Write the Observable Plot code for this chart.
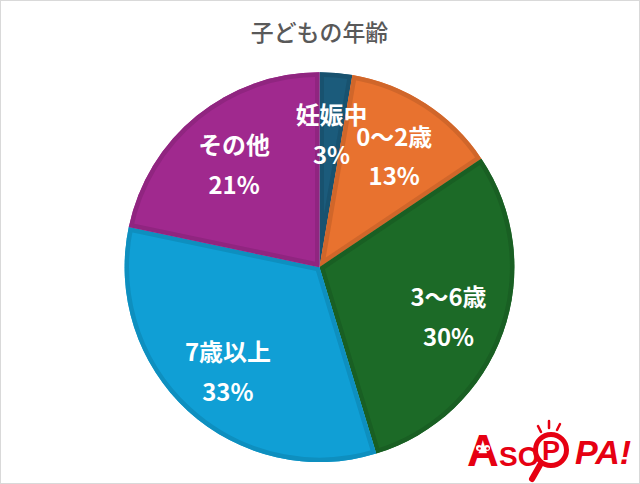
<!DOCTYPE html>
<html>
<head>
<meta charset="utf-8">
<script src="https://cdn.jsdelivr.net/npm/d3@7"></script>
<script src="https://cdn.jsdelivr.net/npm/@observablehq/plot@0.6"></script>
<style>
  html, body { margin: 0; padding: 0; background: #fff; }
  #wrap { position: relative; width: 640px; height: 484px; box-sizing: border-box; border: 1px solid #d9d9d9; overflow: hidden; }
  #wrap svg.plot { position: absolute; left: -1px; top: -1px; }
  #logo { position: absolute; left: 459px; top: 414px; }
</style>
</head>
<body>
<div id="wrap"></div>
<script>
// ---- data ----
const title = "子どもの年齢";
const categories = ["妊娠中", "0～2歳", "3～6歳", "7歳以上", "その他"];
const values = [2.7, 12.9, 29.7, 33.0, 21.7];
const percentLabels = ["3%", "13%", "30%", "33%", "21%"];
const colors = ["#1b5b7b", "#e8722f", "#1c6a27", "#109fd5", "#a0298e"];

// ---- layout helpers built from the data ----
const arcs = d3.pie().sort(null).value(d => d)(values);
const slices = categories.map((c, i) => ({
  category: c,
  value: values[i],
  label: percentLabels[i],
  start: arcs[i].startAngle,
  end: arcs[i].endAngle,
  mid: (arcs[i].startAngle + arcs[i].endAngle) / 2
}));

const labelRadius = 0.7;
let clipId = 0;

const pie = Plot.dot(slices, {
  x: () => 0,
  y: () => 0,
  fill: "category",
  render(index, scales, vals) {
    const cx = scales.x(0), cy = scales.y(0);
    const r = scales.x(1) - scales.x(0);
    const arc = d3.arc().innerRadius(0).outerRadius(r);
    const g = d3.create("svg:g").attr("transform", `translate(${cx},${cy})`);
    for (const i of index) {
      const d = slices[i];
      const path = arc({startAngle: d.start, endAngle: d.end});
      const id = `slice-clip-${clipId++}`;
      g.append("clipPath").attr("id", id).append("path").attr("d", path);
      const fill = vals.fill[i];
      g.append("path").attr("d", path).attr("fill", fill);
      g.append("path").attr("d", path)
        .attr("fill", "none")
        .attr("stroke", d3.color(fill).darker(0.3))
        .attr("stroke-width", 9)
        .attr("stroke-linejoin", "round")
        .attr("clip-path", `url(#${id})`);
    }
    return g.node();
  }
});

const chart = Plot.plot({
  width: 640,
  height: 484,
  margin: 0,
  x: {domain: [-1, 1], range: [125, 516], axis: null},
  y: {domain: [-1, 1], range: [464, 72], axis: null},
  color: {domain: categories, range: colors},
  style: {fontFamily: "'Noto Sans CJK JP', 'Noto Sans', sans-serif", background: "white"},
  marks: [
    pie,
    Plot.text(slices, {
      x: d => labelRadius * Math.sin(d.mid),
      y: d => labelRadius * Math.cos(d.mid),
      text: d => `${d.category}\n${d.label}`,
      fill: "white",
      fontSize: 24,
      fontWeight: 700,
      lineHeight: 1.65,
      lineAnchor: "middle"
    }),
    Plot.text([title], {
      frameAnchor: "top",
      dy: 33,
      lineAnchor: "middle",
      fill: "#595959",
      fontSize: 23,
      fontWeight: 500
    })
  ]
});
chart.classList.add("plot");
document.getElementById("wrap").appendChild(chart);

// ---- logo (decoration) ----
const logo = `
<svg width="178" height="70" xmlns="http://www.w3.org/2000/svg" font-family="'Liberation Sans', Arial, sans-serif" font-weight="bold">
  <text x="7" y="51" font-size="44" fill="#e60012">A</text>
  <circle cx="19" cy="33" r="3" fill="#fff"/><circle cx="27" cy="33" r="3" fill="#fff"/>
  <circle cx="19.5" cy="33.5" r="1.3" fill="#e60012"/><circle cx="27.5" cy="33.5" r="1.3" fill="#e60012"/>
  <text x="39" y="51" font-size="28" fill="#e60012">SO</text>
  <line x1="80" y1="50" x2="72" y2="64" stroke="#e60012" stroke-width="6" stroke-linecap="round"/>
  <circle cx="91" cy="35" r="15.5" fill="#fff" stroke="#e60012" stroke-width="5"/>
  <text x="91" y="45" font-size="27" fill="#e60012" text-anchor="middle">P</text>
  <line x1="78" y1="11" x2="81" y2="17" stroke="#e60012" stroke-width="2.5" stroke-linecap="round"/>
  <line x1="89" y1="6" x2="89" y2="13" stroke="#e60012" stroke-width="2.5" stroke-linecap="round"/>
  <line x1="100" y1="9" x2="97" y2="15" stroke="#e60012" stroke-width="2.5" stroke-linecap="round"/>
  <text x="115" y="49" font-size="34" fill="#e60012" font-style="italic">PA!</text>
</svg>`;
const div = document.createElement("div");
div.id = "logo";
div.innerHTML = logo;
document.getElementById("wrap").appendChild(div);
</script>
</body>
</html>
